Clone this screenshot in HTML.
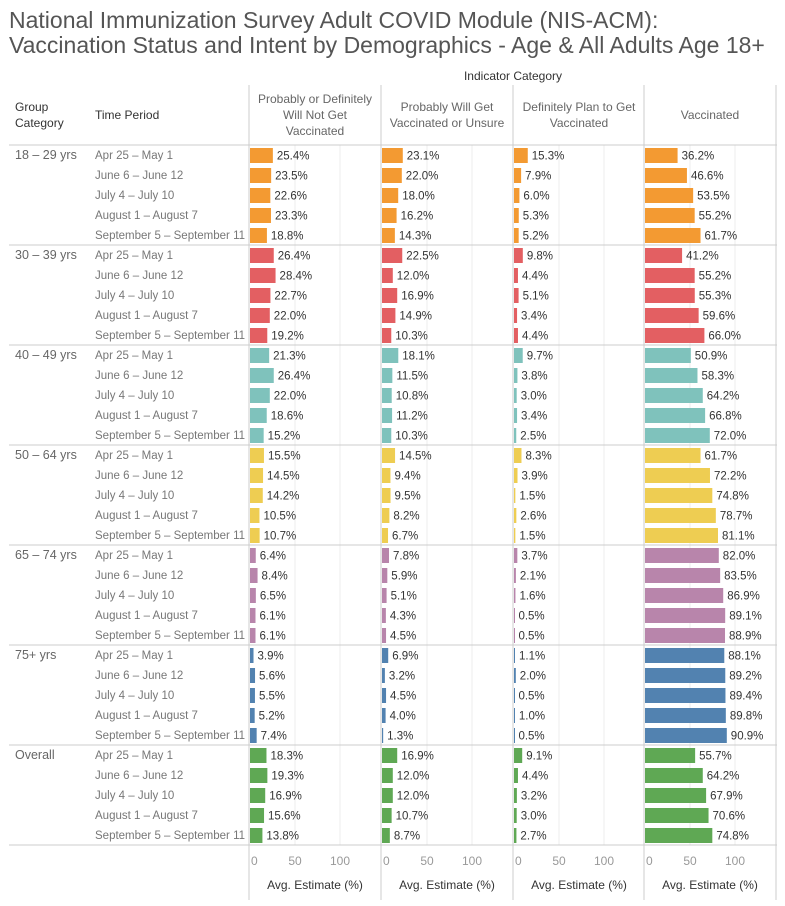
<!DOCTYPE html>
<html><head><meta charset="utf-8">
<style>
body{margin:0;background:#fff;}
svg{display:block;font-family:"Liberation Sans","DejaVu Sans",sans-serif;}
</style></head>
<body>
<svg id="chart" width="785" height="906" viewBox="0 0 785 906">
<text x="9" y="28" font-size="23" fill="#555">National Immunization Survey Adult COVID Module (NIS-ACM):</text>
<text x="9" y="53" font-size="23" fill="#555">Vaccination Status and Intent by Demographics - Age &amp; All Adults Age 18+</text>
<text x="513" y="80" font-size="12" fill="#333" text-anchor="middle">Indicator Category</text>
<text x="15" y="111" font-size="12" fill="#333">Group</text>
<text x="15" y="127" font-size="12" fill="#333">Category</text>
<text x="95" y="119" font-size="12" fill="#333">Time Period</text>
<g id="g"></g>
</svg>
<script>
const groups=["18 – 29 yrs","30 – 39 yrs","40 – 49 yrs","50 – 64 yrs","65 – 74 yrs","75+ yrs","Overall"];
const periods=["Apr 25 – May 1","June 6 – June 12","July 4 – July 10","August 1 –  August 7","September 5  –  September 11"];
const categories=[["Probably or Definitely","Will Not Get","Vaccinated"],["Probably Will Get","Vaccinated or Unsure"],["Definitely Plan to Get","Vaccinated"],["Vaccinated"]];
const colors=["#f39a32","#e35f62","#7fc2bc","#eecd52","#b885ab","#5282b0","#5fa854"];
const ticks=[0,50,100];
const willNot=[25.4,23.5,22.6,23.3,18.8, 26.4,28.4,22.7,22.0,19.2, 21.3,26.4,22.0,18.6,15.2, 15.5,14.5,14.2,10.5,10.7, 6.4,8.4,6.5,6.1,6.1, 3.9,5.6,5.5,5.2,7.4, 18.3,19.3,16.9,15.6,13.8];
const unsure=[23.1,22.0,18.0,16.2,14.3, 22.5,12.0,16.9,14.9,10.3, 18.1,11.5,10.8,11.2,10.3, 14.5,9.4,9.5,8.2,6.7, 7.8,5.9,5.1,4.3,4.5, 6.9,3.2,4.5,4.0,1.3, 16.9,12.0,12.0,10.7,8.7];
const planTo=[15.3,7.9,6.0,5.3,5.2, 9.8,4.4,5.1,3.4,4.4, 9.7,3.8,3.0,3.4,2.5, 8.3,3.9,1.5,2.6,1.5, 3.7,2.1,1.6,0.5,0.5, 1.1,2.0,0.5,1.0,0.5, 9.1,4.4,3.2,3.0,2.7];
const vaccinated=[36.2,46.6,53.5,55.2,61.7, 41.2,55.2,55.3,59.6,66.0, 50.9,58.3,64.2,66.8,72.0, 61.7,72.2,74.8,78.7,81.1, 82.0,83.5,86.9,89.1,88.9, 88.1,89.2,89.4,89.8,90.9, 55.7,64.2,67.9,70.6,74.8];
const series=[willNot,unsure,planTo,vaccinated];

const NS="http://www.w3.org/2000/svg";
const gRoot=document.getElementById('g');
const panelX=[249,381,513,644], panelW=132, topY=145, rowH=20, grpH=100, ppu=0.9;
const xs=(p,v)=>panelX[p]+1+v*ppu;
const rowY=(gi,ri)=>topY+gi*grpH+ri*rowH;
function el(t,a,txt){const e=document.createElementNS(NS,t);for(const k in a)e.setAttribute(k,a[k]);if(txt!==undefined)e.textContent=txt;gRoot.appendChild(e);return e;}
const bottomY=topY+groups.length*grpH;
for(let p=0;p<4;p++){for(const t of ticks.slice(1)){const l=el('line',{x1:xs(p,t),x2:xs(p,t),y1:topY,y2:bottomY,stroke:'#eee'});

}}
for(let p=0;p<=4;p++){const x=p<4?panelX[p]:776;const l=el('line',{x1:x,x2:x,y1:85,y2:900,stroke:'#ccc'});

}
for(let gi=0;gi<=groups.length;gi++){const y=topY+gi*grpH;const l=el('line',{x1:9,x2:777,y1:y,y2:y,stroke:'#ccc'});

}
categories.forEach((lines,p)=>{const n=lines.length;lines.forEach((s,i)=>{const cy=115+(i-(n-1)/2)*16+4;
const t=el('text',{x:panelX[p]+panelW/2,y:cy,'font-size':12,fill:'#666','text-anchor':'middle'},s);

});});
groups.forEach((gn,gi)=>{
 const t=el('text',{x:15,y:rowY(gi,0)+14,'font-size':12.5,fill:'#666'},gn);
 
 
 periods.forEach((pn,ri)=>{
  const y=rowY(gi,ri);
  const pt=el('text',{x:95,y:y+14,'font-size':11.5,fill:'#777'},pn);
  
  
  series.forEach((arr,p)=>{
   const v=arr[gi*5+ri];
   const b=el('rect',{x:xs(p,0),y:y+3,width:Math.max(v*ppu,1),height:15,fill:colors[gi]});
   
   
   const lt=el('text',{x:xs(p,v)+4,y:y+14.5,'font-size':11.5,fill:'#333'},v.toFixed(1)+'%');
   
   
  });
 });
});
for(let p=0;p<4;p++){
 ticks.forEach(t=>{const tt=el('text',{x:t===0?xs(p,0)+1:xs(p,t),y:865,'font-size':12,fill:'#999','text-anchor':t===0?'start':'middle'},String(t));
 
 });
 const at=el('text',{x:panelX[p]+panelW/2,y:889,'font-size':12,fill:'#333','text-anchor':'middle'},'Avg. Estimate (%)');
 
 
}
</script>
</body></html>
